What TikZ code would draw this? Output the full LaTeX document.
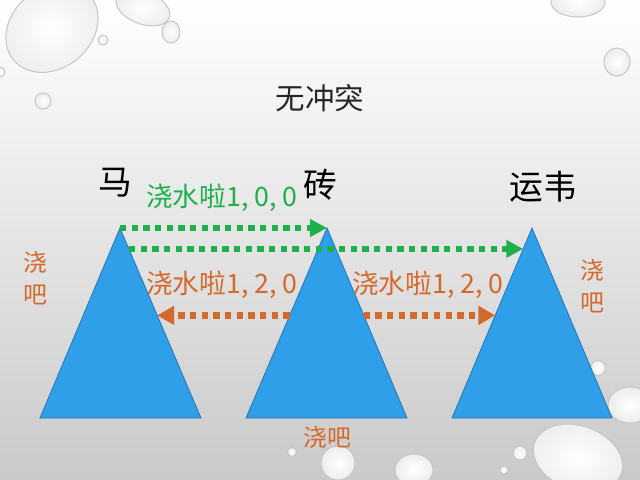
\documentclass[tikz,border=0pt]{standalone}
\usepackage{fontspec}
\usepackage{tikz}
\usetikzlibrary{arrows.meta, calc}
\newfontfamily\cjk{Noto Sans CJK SC}
\definecolor{hillblue}{HTML}{2E9FE8}
\definecolor{hilledge}{HTML}{2B78B5}
\definecolor{watergreen}{HTML}{1FAF4B}
\definecolor{pourorange}{HTML}{D4692C}

\begin{document}
\begin{tikzpicture}[x=0.025cm, y=-0.025cm,
  hill/.style={draw=hilledge, line width=0.6pt, fill=hillblue},
  waterdrop/.style={draw=gray!45, line width=0.7pt, inner color=white, outer color=gray!14},
  heading/.style={font=\cjk\fontsize{21}{25}\selectfont, text=black!85},
  hilltag/.style={font=\cjk\fontsize{24}{28}\selectfont, text=black},
  msg/.style={font=\cjk\fontsize{19}{22}\selectfont, inner sep=0pt},
  pourtext/.style={font=\cjk\fontsize{17}{22.7}\selectfont, text=pourorange, align=center, inner sep=0pt},
  greenarr/.style={-{Triangle[length=12pt, width=12pt]}, line width=4.5pt,
                   dash pattern=on 4.5pt off 3.8pt, color=watergreen},
  orangearr/.style={-{Triangle[length=12pt, width=13pt]}, line width=4.5pt,
                    dash pattern=on 4.5pt off 3.8pt, color=pourorange},
]
  \useasboundingbox (0,0) rectangle (640,480);
  \clip (0,0) rectangle (640,480);
  \shade[top color=white, middle color=white, bottom color=black!21] (0,0) rectangle (640,480);

  \draw[waterdrop, rotate around={40:(52,28)}] (52,28) ellipse [x radius=50, y radius=40];
  \draw[waterdrop, rotate around={-20:(143,8)}] (143,8) ellipse [x radius=28, y radius=16];
  \draw[waterdrop] (171,32) ellipse [x radius=9, y radius=11];
  \draw[waterdrop] (103,40) circle [radius=5];
  \draw[waterdrop] (43,101) circle [radius=8];
  \draw[waterdrop] (0,72) circle [radius=5];
  \draw[waterdrop] (578,2) ellipse [x radius=27, y radius=15];
  \draw[waterdrop] (617,62) ellipse [x radius=13, y radius=14];
  \draw[waterdrop] (598,368) circle [radius=7.5];
  \draw[waterdrop] (630,405) ellipse [x radius=22, y radius=18];
  \draw[waterdrop, rotate around={-20:(578,458)}] (578,458) ellipse [x radius=46, y radius=32];
  \draw[waterdrop] (520,453) circle [radius=7];
  \draw[waterdrop] (504,470) circle [radius=4];
  \draw[waterdrop] (414,470) ellipse [x radius=19, y radius=16];
  \draw[waterdrop] (338,463) circle [radius=17];
  \draw[waterdrop] (292,452) circle [radius=4.5];

  \coordinate (maTop) at (120,228);
  \coordinate (maL) at (40,418);
  \coordinate (maR) at (201,418);
  \coordinate (zhuanTop) at (327,228);
  \coordinate (zhuanL) at (246,418);
  \coordinate (zhuanR) at (407,418);
  \coordinate (yunTop) at (532,228);
  \coordinate (yunL) at (452,418);
  \coordinate (yunR) at (612,418);

  \draw[hill] (maTop) -- (maR) -- (maL) -- cycle;
  \draw[hill] (zhuanTop) -- (zhuanR) -- (zhuanL) -- cycle;
  \draw[hill] (yunTop) -- (yunR) -- (yunL) -- cycle;

  \node[heading] (title) at (320,98) {无冲突};
  \node[hilltag] (ma) at (115,183) {马};
  \node[hilltag] (zhuan) at (320,185) {砖};
  \node[hilltag] (yunwei) at (543,187) {运韦};

  \node[msg, text=watergreen] (water) at (222,198) {浇水啦1, 0, 0};
  \node[msg, text=pourorange] (pourA) at (222,285) {浇水啦1, 2, 0};
  \node[msg, text=pourorange] (pourB) at (428,285) {浇水啦1, 2, 0};

  \node[pourtext] (maPour) at (35,278) {浇\\吧};
  \node[pourtext] (yunPour) at (592,286) {浇\\吧};
  \node[pourtext] (zhuanPour) at (327,437) {浇吧};

  \draw[greenarr] (maTop) -- (zhuanTop);
  \draw[greenarr] ($(maTop)!0.11!(maR)$) -- ($(yunTop)!0.11!(yunL)$);
  \draw[orangearr] ($(zhuanTop)!0.46!(zhuanL)$) -- ($(maTop)!0.46!(maR)$);
  \draw[orangearr] ($(zhuanTop)!0.46!(zhuanR)$) -- ($(yunTop)!0.46!(yunL)$);
\end{tikzpicture}
\end{document}
